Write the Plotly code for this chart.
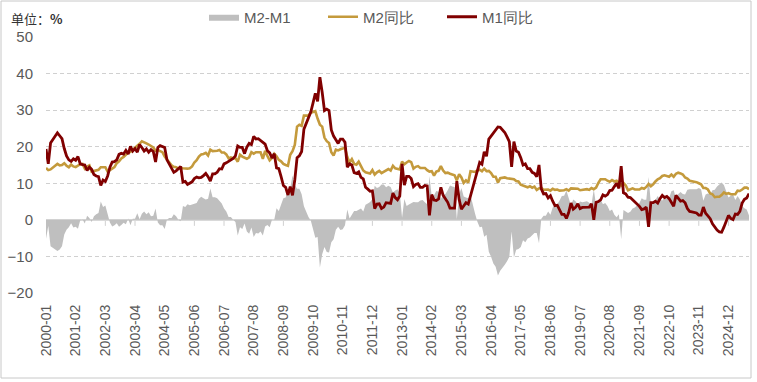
import pandas as pd
import plotly.graph_objects as go

# ---- data -------------------------------------------------------------
months = pd.date_range("2000-01-01", "2025-09-01", freq="MS").strftime("%Y-%m").tolist()

m1_yoy = [
    19.4, 15.3, 21.0, 22.0, 22.8, 23.8, 23.0, 22.2, 19.5, 17.5, 16.4, 16.0,   # 2000
    16.7, 16.3, 17.3, 15.3, 15.1, 15.0, 13.5, 14.4, 13.8, 12.4, 12.0, 11.8,   # 2001
    9.4, 10.9, 10.5, 12.0, 14.4, 15.8, 15.9, 16.4, 17.9, 18.2, 18.0, 19.0,    # 2002
    18.0, 20.1, 18.8, 19.5, 18.5, 20.6, 19.8, 18.8, 19.4, 18.5, 19.2, 18.7,   # 2003
    15.8, 19.8, 20.3, 20.0, 19.8, 16.4, 15.3, 14.4, 13.0, 13.4, 14.0, 14.6,   # 2004
    10.3, 10.5, 9.7, 10.1, 10.4, 11.3, 11.7, 11.5, 11.6, 12.1, 12.7, 11.8,    # 2005
    10.6, 12.6, 12.6, 13.0, 14.0, 13.9, 15.3, 15.6, 16.0, 16.3, 16.8, 17.5,   # 2006
    20.2, 19.8, 19.8, 18.1, 19.9, 20.9, 20.6, 22.8, 22.1, 22.2, 21.7, 21.0,   # 2007
    20.7, 18.9, 18.3, 16.9, 18.1, 14.2, 14.0, 11.8, 9.4, 8.9, 6.8, 9.1,       # 2008
    6.7, 10.9, 17.0, 17.5, 18.7, 24.8, 26.4, 27.7, 29.5, 32.0, 34.6, 32.4,    # 2009
    39.0, 34.9, 29.9, 30.3, 29.9, 24.6, 22.9, 21.9, 20.9, 22.1, 22.1, 21.2,   # 2010
    14.4, 15.3, 15.0, 12.9, 12.7, 13.1, 11.6, 11.2, 8.9, 8.4, 7.8, 7.9,       # 2011
    3.1, 4.3, 4.4, 3.1, 3.5, 4.7, 4.6, 4.5, 7.3, 6.1, 5.5, 6.5,               # 2012
    15.3, 9.5, 11.9, 11.9, 11.3, 9.1, 9.7, 9.9, 8.9, 8.9, 9.4, 9.3,           # 2013
    1.2, 6.9, 5.4, 5.3, 5.7, 8.9, 6.7, 5.7, 4.8, 3.2, 3.2, 3.2,               # 2014
    10.6, 5.6, 2.9, 3.7, 4.7, 4.3, 6.6, 9.3, 11.4, 14.0, 15.7, 15.2,          # 2015
    18.6, 17.4, 22.1, 22.9, 23.7, 24.6, 25.4, 25.3, 24.7, 23.9, 22.7, 21.4,   # 2016
    14.5, 21.4, 18.8, 18.5, 17.0, 15.0, 15.3, 14.0, 14.0, 13.0, 12.7, 11.8,   # 2017
    15.0, 8.5, 7.1, 7.2, 6.0, 6.6, 5.1, 3.9, 4.0, 2.7, 1.5, 1.5,              # 2018
    0.4, 2.0, 4.6, 2.9, 3.4, 4.4, 3.1, 3.4, 3.4, 3.3, 3.5, 4.4,               # 2019
    0.0, 4.8, 5.0, 5.5, 6.8, 6.5, 6.9, 8.0, 8.1, 9.1, 10.0, 8.6,              # 2020
    14.7, 7.4, 7.1, 6.2, 6.1, 5.5, 4.9, 4.2, 3.7, 2.8, 3.0, 3.5,              # 2021
    -1.9, 4.7, 4.7, 5.1, 4.6, 5.8, 6.7, 6.1, 6.4, 5.8, 4.6, 3.7,              # 2022
    6.7, 5.8, 5.1, 5.3, 4.7, 3.1, 2.3, 2.2, 2.1, 1.9, 1.3, 1.3,               # 2023
    3.5, 1.8, 1.1, 0.3, -1.1, -2.0, -2.8, -3.3, -3.4, -2.0, -0.5, 1.2,        # 2024
    0.4, 0.1, 1.6, 1.5, 2.3, 4.6, 5.6, 6.0, 7.2,                              # 2025
]

m2_yoy = [
    14.2, 13.6, 13.8, 14.4, 14.8, 15.3, 14.9, 15.0, 15.5, 14.8, 14.4, 15.1,   # 2000
    14.6, 14.4, 14.9, 15.2, 15.3, 14.0, 14.6, 14.9, 13.2, 13.4, 13.5, 13.7,   # 2001
    14.4, 14.4, 14.4, 13.2, 13.7, 14.0, 14.4, 15.5, 16.0, 16.8, 17.2, 17.8,   # 2002
    18.4, 18.6, 19.1, 19.8, 20.3, 20.8, 21.5, 21.1, 20.9, 20.6, 20.2, 19.8,   # 2003
    18.9, 19.1, 18.8, 18.5, 17.3, 16.5, 15.8, 14.9, 14.5, 14.4, 14.0, 14.2,   # 2004
    14.1, 14.0, 14.0, 14.1, 14.6, 15.7, 16.3, 17.3, 17.9, 18.0, 18.3, 17.6,   # 2005
    19.2, 18.8, 18.8, 18.9, 19.1, 18.4, 18.4, 17.9, 16.8, 17.1, 16.8, 16.9,   # 2006
    15.9, 17.8, 17.3, 17.1, 16.7, 17.1, 18.5, 18.1, 18.5, 18.5, 18.5, 16.7,   # 2007
    18.9, 17.5, 16.3, 16.9, 18.1, 17.4, 16.4, 16.0, 15.3, 15.0, 14.8, 17.8,   # 2008
    18.8, 20.5, 25.5, 26.0, 25.7, 28.5, 28.4, 28.5, 29.3, 29.4, 29.7, 27.7,   # 2009
    26.0, 25.5, 22.5, 21.5, 21.0, 18.5, 17.6, 19.2, 19.0, 19.3, 19.5, 19.7,   # 2010
    17.2, 15.7, 16.6, 15.3, 15.1, 15.9, 14.7, 13.5, 13.0, 12.9, 12.7, 13.6,   # 2011
    12.4, 13.0, 13.4, 12.8, 13.2, 13.6, 13.9, 13.5, 14.8, 14.1, 13.9, 13.8,   # 2012
    15.9, 15.2, 15.7, 16.1, 15.8, 14.0, 14.5, 14.7, 14.2, 14.3, 14.2, 13.6,   # 2013
    13.2, 13.3, 12.1, 13.2, 13.4, 14.7, 13.5, 12.8, 12.9, 12.6, 12.3, 12.2,   # 2014
    10.8, 12.5, 11.6, 10.1, 10.8, 10.2, 13.3, 13.3, 13.1, 13.5, 13.7, 13.3,   # 2015
    14.0, 13.3, 13.4, 12.8, 11.8, 11.8, 10.2, 11.4, 11.5, 11.6, 11.4, 11.3,   # 2016
    11.3, 11.1, 10.6, 10.5, 9.6, 9.4, 9.2, 8.9, 9.2, 8.8, 9.1, 8.2,           # 2017
    8.6, 8.8, 8.2, 8.3, 8.3, 8.0, 8.5, 8.2, 8.3, 8.0, 8.0, 8.1,               # 2018
    8.4, 8.0, 8.6, 8.5, 8.5, 8.5, 8.1, 8.2, 8.4, 8.4, 8.2, 8.7,               # 2019
    8.4, 8.8, 10.1, 11.1, 11.1, 11.1, 10.7, 10.4, 10.9, 10.5, 10.7, 10.1,     # 2020
    9.4, 10.1, 9.4, 8.1, 8.3, 8.6, 8.3, 8.2, 8.3, 8.7, 8.5, 9.0,              # 2021
    9.8, 9.2, 9.7, 10.5, 11.1, 11.4, 12.0, 12.2, 12.1, 11.8, 12.4, 11.8,      # 2022
    12.6, 12.9, 12.7, 12.4, 11.6, 11.3, 10.7, 10.6, 10.3, 10.3, 10.0, 9.7,    # 2023
    8.7, 8.7, 8.3, 7.2, 7.0, 6.2, 6.3, 6.3, 6.8, 7.5, 7.1, 7.3,               # 2024
    7.0, 7.0, 7.0, 8.0, 7.9, 8.3, 8.8, 8.8, 8.4,                              # 2025
]

# M2-M1 spread (definition of the grey area)
m2_minus_m1 = [round(a - b, 1) for a, b in zip(m2_yoy, m1_yoy)]

tick_labels = months[::13]
y_ticks = [-20, -10, 0, 10, 20, 30, 40, 50]

# ---- styling -------------------------------------------------------------
FONT = "Liberation Sans, Arial, sans-serif"
TXT = "#595959"
GRID = "#d0d0d0"
W, H = 757, 382
ML, MR, MT, MB = 46, 8, 37, 89
PW, PH = W - ML - MR, H - MT - MB

fig = go.Figure()
fig.add_trace(go.Scatter(
    x=months, y=m2_minus_m1, name="M2-M1", mode="lines",
    line=dict(width=0, color="#BFBFBF"), fill="tozeroy", fillcolor="#BFBFBF",
))
fig.add_trace(go.Scatter(
    x=months, y=m2_yoy, name="M2同比", mode="lines",
    line=dict(width=2.6, color="#C49A3C"),
))
fig.add_trace(go.Scatter(
    x=months, y=m1_yoy, name="M1同比", mode="lines",
    line=dict(width=2.8, color="#800000"),
))

# small tick marks hanging from the zero line at each labelled month
zero_ticks = [dict(
    type="line", xref="x", yref="y", x0=m, x1=m,
    ysizemode="pixel", yanchor=0, y0=0, y1=-6,
    line=dict(color=GRID, width=1), layer="below",
) for m in tick_labels]

fig.update_layout(
    width=W, height=H,
    margin=dict(l=ML, r=MR, t=MT, b=MB, autoexpand=False),
    paper_bgcolor="white", plot_bgcolor="white",
    font=dict(family=FONT, color=TXT, size=14),
    showlegend=True,
    legend=dict(
        orientation="h", xref="container", yref="container",
        x=204 / W, xanchor="left", y=1 - 17 / H, yanchor="middle",
        font=dict(size=15, color=TXT), bgcolor="rgba(0,0,0,0)",
        traceorder="normal", entrywidth=74,
    ),
    xaxis=dict(
        type="category", range=[0, len(months) - 1], automargin=False,
        tickmode="array", tickvals=tick_labels, ticktext=tick_labels,
        tickangle=-90, tickfont=dict(size=14, color=TXT),
        showgrid=False, zeroline=False, showline=False, ticks="",
        ticklabelstandoff=8,
    ),
    yaxis=dict(
        range=[-20, 50], tickmode="array", tickvals=y_ticks, automargin=False,
        tickfont=dict(size=15, color=TXT),
        showgrid=True, gridcolor=GRID, griddash="4px,3px", gridwidth=1,
        zeroline=True, zerolinecolor="#d9d9d9", zerolinewidth=2,
        showline=False, ticks="", ticklabelstandoff=12,
    ),
    annotations=[dict(
        text="单位：<b>%</b>", xref="paper", yref="paper",
        x=(9 - ML) / PW, y=1 + (MT - 18) / PH, xanchor="left", yanchor="middle",
        showarrow=False, font=dict(size=13, color="#333333",
                                   family="Noto Sans CJK SC, Liberation Sans"),
    )],
    shapes=zero_ticks + [dict(
        type="rect", xref="paper", yref="paper",
        x0=(1 - ML) / PW, x1=(751 - ML) / PW,
        y0=-(378 - (MT + PH)) / PH, y1=1 + (MT - 1) / PH,
        line=dict(color="#c8c8c8", width=1), fillcolor="rgba(0,0,0,0)",
        layer="below",
    )],
)

fig.write_html(
    "out.html",
    config={"displayModeBar": False},
    post_script="document.body.style.margin='0';document.documentElement.style.margin='0';",
)
